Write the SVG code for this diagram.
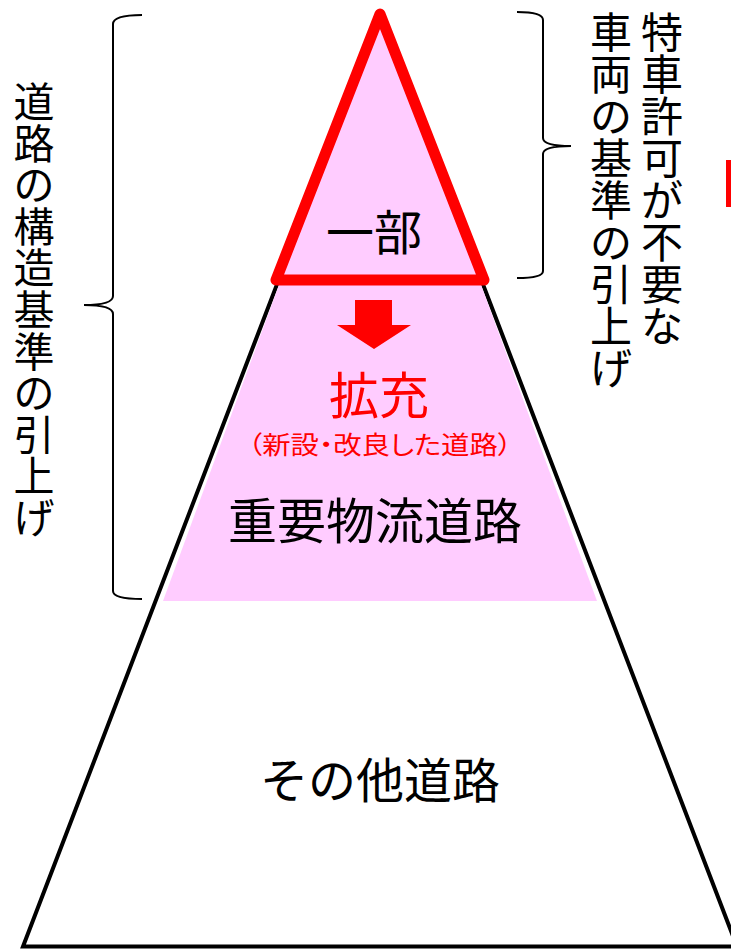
<svg xmlns="http://www.w3.org/2000/svg" width="731" height="950" viewBox="0 0 731 950">
<style>
text{font-family:"Noto Sans CJK JP","Noto Sans CJK SC",sans-serif;text-anchor:middle}
.blk{fill:#000}
.red{fill:#FF0000}
.brace{fill:none;stroke:#000;stroke-width:2}
</style>
<rect x="0" y="0" width="731" height="950" fill="#fff"/>
<g id="pyramid">
<polygon points="380,16 23,946.5 737,946.5" fill="#fff" stroke="#000" stroke-width="4" stroke-linejoin="miter"/>
</g>
<g id="important-road">
<polygon points="280,282 163,601 597,601 480,282" fill="#FFCCFF"/>
<text x="375" y="538.5" font-size="49" class="blk">重要物流道路</text>
</g>
<g id="expansion">
<text x="379" y="413.5" font-size="50" class="red">拡充</text>
<text x="380" y="453.5" font-size="25" class="red" style="font-feature-settings:'palt'" textLength="264" lengthAdjust="spacingAndGlyphs">（新設・改良した道路）</text>
</g>
<g id="top-part">
<polygon points="380,14 276,280 484,280" fill="#FFCCFF" stroke="#FF0000" stroke-width="11" stroke-linejoin="round"/>
<text x="374" y="250" font-size="48" class="blk">一部</text>
</g>
<g id="other-road">
<text x="380" y="798" font-size="48" class="blk">その他道路</text>
</g>
<g id="connectors">
<polygon points="355,300 392,300 392,325 411,325 374,349 337,325 355,325" fill="#FF0000"/>
</g>
<g id="left-brace">
<path class="brace" d="M142,15 C125,15 113,17 113,24 L113,296 C113,303 100,305 84,305 C100,305 113,307 113,314 L113,591 C113,597 125,599 142,599"/>
<text font-size="41" class="blk"><tspan x="34" y="117">道</tspan><tspan x="34" y="158.6">路</tspan><tspan x="34" y="200.2">の</tspan><tspan x="34" y="241.8">構</tspan><tspan x="34" y="283.4">造</tspan><tspan x="34" y="325">基</tspan><tspan x="34" y="366.6">準</tspan><tspan x="34" y="408.2">の</tspan><tspan x="34" y="449.8">引</tspan><tspan x="34" y="491.4">上</tspan><tspan x="34" y="533">げ</tspan></text>
</g>
<g id="right-brace">
<path class="brace" d="M517,12 C533,12 543,14 543,20 L543,138 C543,144 555,146 571,146 C555,146 543,148 543,154 L543,271 C543,276 533,278 517,278"/>
<text font-size="42" class="blk"><tspan x="662" y="48">特</tspan><tspan x="662" y="90">車</tspan><tspan x="662" y="132">許</tspan><tspan x="662" y="174">可</tspan><tspan x="662" y="216">が</tspan><tspan x="662" y="258">不</tspan><tspan x="662" y="300">要</tspan><tspan x="662" y="342">な</tspan></text>
<text font-size="42" class="blk"><tspan x="611" y="48">車</tspan><tspan x="611" y="90">両</tspan><tspan x="611" y="132">の</tspan><tspan x="611" y="174">基</tspan><tspan x="611" y="216">準</tspan><tspan x="611" y="258">の</tspan><tspan x="611" y="300">引</tspan><tspan x="611" y="342">上</tspan><tspan x="611" y="384">げ</tspan></text>
</g>
<rect id="red-mark" x="726" y="160" width="6" height="47" fill="#FF0000"/>
</svg>
